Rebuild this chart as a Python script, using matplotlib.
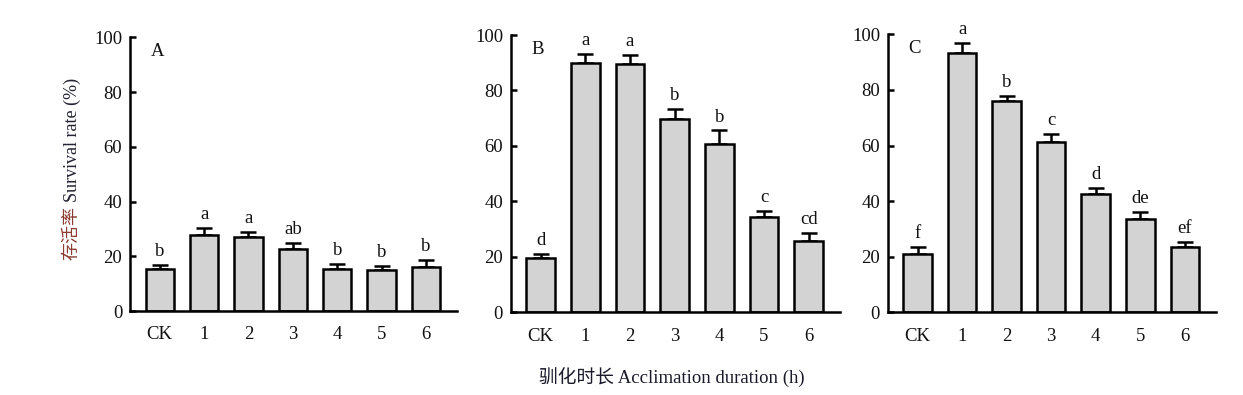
import matplotlib
matplotlib.use("Agg")
import matplotlib.pyplot as plt
import numpy as np

plt.rcParams['font.family'] = ['Liberation Serif', 'Noto Sans CJK SC']
plt.rcParams['axes.unicode_minus'] = False

categories = ["CK", "1", "2", "3", "4", "5", "6"]
panel_names = ["A", "B", "C"]

values_a = [15.2, 27.7, 27.2, 22.8, 15.4, 14.8, 16.2]
errors_a = [1.7, 2.8, 1.7, 2.2, 1.9, 1.7, 2.4]
letters_a = ["b", "a", "a", "ab", "b", "b", "b"]

values_b = [19.6, 89.9, 89.7, 69.8, 60.8, 34.4, 25.8]
errors_b = [1.6, 3.2, 3.2, 3.5, 4.8, 2.1, 2.9]
letters_b = ["d", "a", "a", "b", "b", "c", "cd"]

values_c = [21.1, 93.4, 76.1, 61.4, 42.4, 33.6, 23.6]
errors_c = [2.4, 3.5, 1.7, 2.7, 2.4, 2.5, 1.8]
letters_c = ["f", "a", "b", "c", "d", "de", "ef"]

y_ticks = [0, 20, 40, 60, 80, 100]

ylabel_cn = "存活率"
ylabel_en = "Survival rate (%)"
xlabel = "驯化时长 Acclimation duration (h)"

W, H = 1243, 395
fig = plt.figure(figsize=(W / 100, H / 100), dpi=100)

# axes rectangles in pixels: (left, right, y0px, y100px)
rects = [(130, 457, 311.0, 37.3), (510.7, 840, 312.3, 35.0), (887.7, 1216, 312.3, 34.3)]
data = [(values_a, errors_a, letters_a), (values_b, errors_b, letters_b), (values_c, errors_c, letters_c)]

lw = 1.8
fs = 13.5
txt_color = "#111111"
for (l, r, y0, y1), (vals, errs, lets), name in zip(rects, data, panel_names):
    ax = fig.add_axes([l / W, (H - y0) / H, (r - l) / W, (y0 - y1) / H])
    x = np.arange(len(categories))
    ax.bar(x, vals, width=0.64, color="#d3d3d3", edgecolor="black", linewidth=lw, zorder=2)
    ax.errorbar(x, vals, yerr=[np.zeros(len(vals)), errs], fmt="none", ecolor="black",
                elinewidth=lw, capsize=5.8, capthick=lw, zorder=1)
    for xi, v, e, t in zip(x, vals, errs, lets):
        ax.text(xi, v + e + 3.2, t, ha="center", va="baseline", fontsize=fs, color=txt_color)
    ax.set_xlim(-0.67, 6.70)
    ax.set_ylim(0, 100)
    ax.set_yticks(y_ticks)
    ax.set_xticks(x)
    ax.set_xticklabels(categories)
    for s in ["top", "right"]:
        ax.spines[s].set_visible(False)
    for s in ["left", "bottom"]:
        ax.spines[s].set_linewidth(lw)
    ax.tick_params(axis="y", direction="in", length=4, width=lw, pad=5.5, labelsize=fs, labelcolor=txt_color)
    ax.tick_params(axis="x", direction="in", length=3.5, width=1.2, pad=11, labelsize=fs, labelcolor=txt_color)
    ax.text(-0.67 + 21 / 44.6, 97.8, name, ha="left", va="top", fontsize=fs, color=txt_color)

# two-colour y label
fs_y = 13
t1 = fig.text(72 / W, 1 - 260 / H, ylabel_cn, rotation=90, ha="center", va="bottom",
              fontsize=fs_y, color="#8B3A2E")
fig.canvas.draw()
bb = t1.get_window_extent()
t2 = fig.text(72 / W, (bb.y1 + 4) / H, ylabel_en, rotation=90, ha="center", va="bottom",
              fontsize=fs_y, color="#222233")

fig.text(672 / W, 1 - 377 / H, xlabel, ha="center", va="center", fontsize=fs, color="#1a1a2a")

fig.savefig("out.png", dpi=100)
